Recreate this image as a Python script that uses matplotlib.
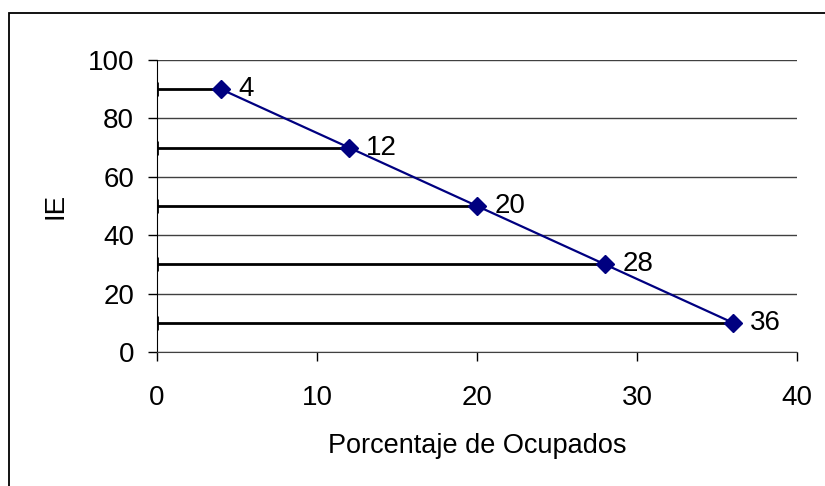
import matplotlib
matplotlib.use("Agg")
import matplotlib.pyplot as plt
from matplotlib.patches import Rectangle

x_vals = [4, 12, 20, 28, 36]
y_vals = [90, 70, 50, 30, 10]
labels = ["4", "12", "20", "28", "36"]
x_ticks = [0, 10, 20, 30, 40]
y_ticks = [0, 20, 40, 60, 80, 100]

plt.rcParams['font.family'] = ['Liberation Sans', 'DejaVu Sans']
FS = 20

fig = plt.figure(figsize=(8.25, 4.86), dpi=100)
ax = fig.add_axes([157/825, 1-352/486, (797-157)/825, (352-60)/486])

# outer chart border (right/bottom edges cut off in the reference)
fig.patches.append(Rectangle((9/825, -0.1), 1.1, 1 - 13/486 + 0.1, transform=fig.transFigure,
                             fill=False, edgecolor='black', linewidth=1.3))

ax.set_xlim(0, 40)
ax.set_ylim(0, 100)
ax.set_yticks(y_ticks)
ax.set_xticks(x_ticks)
ax.grid(axis='y', color='#404040', linewidth=1.0)
ax.set_axisbelow(True)

for s in ['top', 'right']:
    ax.spines[s].set_visible(False)
ax.spines['left'].set_color('black')
ax.spines['bottom'].set_color('#404040')
ax.tick_params(axis='both', direction='out', length=6.5, width=1, labelsize=FS, colors='black')
ax.tick_params(axis='y', pad=10)
ax.tick_params(axis='x', pad=17)

# horizontal error bars from 0 to point
ax.errorbar(x_vals, y_vals, xerr=[x_vals, [0]*len(x_vals)], fmt='none', ecolor='black',
            elinewidth=2, capsize=5, capthick=2, zorder=3)
ax.plot(x_vals, y_vals, color='#000080', linewidth=1.6, marker='D', markersize=9.5,
        markerfacecolor='#000080', markeredgecolor='#000080', zorder=4, clip_on=False)

for xv, yv, lb in zip(x_vals, y_vals, labels):
    ax.annotate(lb, (xv, yv), xytext=(12.5, 0), textcoords='offset points',
                ha='left', va='center', fontsize=FS)

ax.set_xlabel('Porcentaje de Ocupados', fontsize=19.5, labelpad=16)
ax.set_ylabel('IE', fontsize=FS, labelpad=14)

fig.savefig('out.png', dpi=100)
